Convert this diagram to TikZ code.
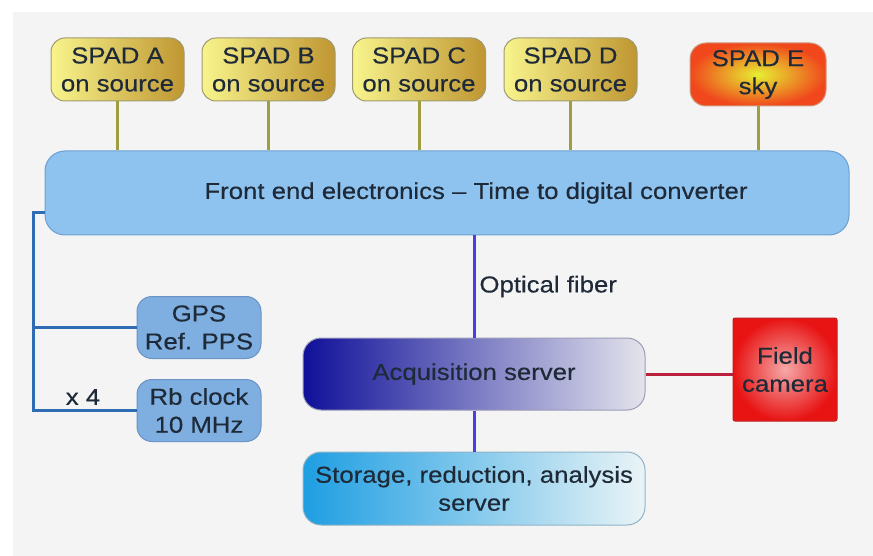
\documentclass[tikz,border=0pt]{standalone}
\usepackage{fontspec}
\setmainfont[FakeStretch=1.12,FakeBold=0.35]{Liberation Sans}
\definecolor{bg}{HTML}{F4F4F4}
\definecolor{txt}{HTML}{1E2A38}
\definecolor{spadlight}{HTML}{F8F48C}
\definecolor{spadmid}{HTML}{EEDC62}
\definecolor{spaddark}{HTML}{BF9632}
\definecolor{spadborder}{HTML}{A09A70}
\definecolor{eInner}{HTML}{E6F032}
\definecolor{eOuter}{HTML}{F0481C}
\definecolor{eBorder}{HTML}{D09A80}
\definecolor{feFill}{HTML}{8EC3F0}
\definecolor{feBorder}{HTML}{6C9FD0}
\definecolor{clkFill}{HTML}{7FAEE0}
\definecolor{clkBorder}{HTML}{6B93C5}
\definecolor{olive}{HTML}{A09C40}
\definecolor{bus}{HTML}{2E6DB4}
\definecolor{fiber}{HTML}{4A3FE0}
\definecolor{camline}{HTML}{B8203C}
\definecolor{acqL}{HTML}{10109A}
\definecolor{acqM}{HTML}{8C84E0}
\definecolor{acqR}{HTML}{E4E4EC}
\definecolor{acqBorder}{HTML}{9C9CB8}
\definecolor{storL}{HTML}{1E9EE2}
\definecolor{storR}{HTML}{EAF4F6}
\definecolor{storBorder}{HTML}{8FB4C8}
\definecolor{camInner}{HTML}{F6A8A8}
\definecolor{camOuter}{HTML}{E81414}
\definecolor{camBorder}{HTML}{C02020}
\begin{document}
\begin{tikzpicture}[x=1pt,y=-1pt,
  every node/.style={font=\fontsize{23}{28}\selectfont, align=center, text=txt, inner sep=0pt},
  spad/.style={draw=spadborder, line width=1pt, rounded corners=14pt,
    minimum width=133pt, minimum height=63pt,
    left color=spadlight, middle color=spadmid, right color=spaddark},
  skyspad/.style={draw=eBorder, line width=1pt, rounded corners=16pt,
    minimum width=136pt, minimum height=63pt,
    inner color=eInner, outer color=eOuter},
  febox/.style={draw=feBorder, fill=feFill, line width=1pt, rounded corners=20pt,
    minimum width=804pt, minimum height=84pt},
  clk/.style={draw=clkBorder, fill=clkFill, line width=1pt, rounded corners=15pt,
    minimum width=124pt, minimum height=62pt},
  acqbox/.style={draw=acqBorder, line width=1pt, rounded corners=18pt,
    minimum width=342pt, minimum height=72pt,
    left color=acqL, middle color=acqM, right color=acqR},
  storbox/.style={draw=storBorder, line width=1pt, rounded corners=18pt,
    minimum width=342pt, minimum height=73pt,
    left color=storL, right color=storR},
  cambox/.style={draw=camBorder, line width=1pt, rounded corners=2pt,
    minimum width=104pt, minimum height=103pt,
    inner color=camInner, outer color=camOuter},
  spadline/.style={draw=olive, line width=3pt},
  busline/.style={draw=bus, line width=3pt},
  fiberline/.style={draw=fiber, line width=3pt},
  camlink/.style={draw=camline, line width=3pt},
  lbl/.style={font=\fontsize{23}{28}\selectfont}
]
\useasboundingbox (0,0) rectangle (873,556);
\fill[bg] (13,12) rectangle (873,556);

% nodes
\node[spad] (spadA) at (117.5,69.5) {SPAD A\\on source};
\node[spad] (spadB) at (268.5,69.5) {SPAD B\\on source};
\node[spad] (spadC) at (419,69.5) {SPAD C\\on source};
\node[spad] (spadD) at (570.5,69.5) {SPAD D\\on source};
\node[skyspad] (spadE) at (758,74.5) {SPAD E\\sky};
\node[febox] (fe) at (447,193) {};
\node[lbl] (feText) at (476,193) {Front end electronics -- Time to digital converter};
\node[clk] (gps) at (199,327.5) {GPS\\Ref. PPS};
\node[clk] (rb) at (199,410.5) {Rb clock\\10 MHz};
\node[acqbox] (acq) at (474,374) {Acquisition server};
\node[storbox] (stor) at (474,488.5) {Storage, reduction, analysis\\server};
\node[cambox] (cam) at (785,369.5) {Field\\camera};
\node[lbl] (x4) at (83,397) {x 4};

% connectors
\foreach \s in {spadA,spadB,spadC,spadD,spadE}
  \draw[spadline] (\s.south) -- (\s.south |- fe.north);

\coordinate (busTop) at (33,213);
\draw[busline] (fe.west |- busTop) -- (busTop) -- (busTop |- rb.west) -- (rb.west);
\draw[busline] (busTop |- gps.west) -- (gps.west);

\draw[fiberline] (acq.north |- fe.south) -- node[right=4pt, lbl] (fib) {Optical fiber} (acq.north);
\draw[fiberline] (acq.south) -- (stor.north);
\draw[camlink] (acq.east) -- (acq.east -| cam.west);
\end{tikzpicture}
\end{document}
